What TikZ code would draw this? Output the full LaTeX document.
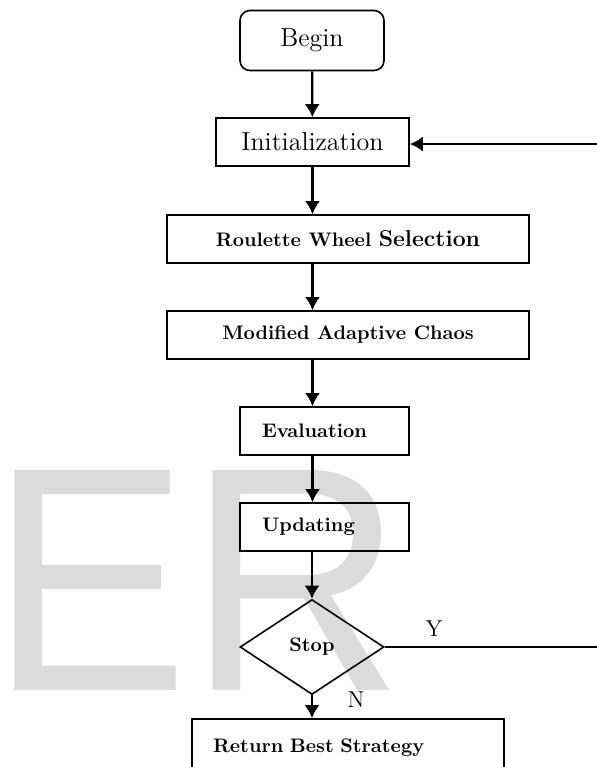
\documentclass[tikz,border=0pt]{standalone}
\usepackage{fontspec}
\usepackage{tikz}
\usetikzlibrary{arrows.meta}
\usetikzlibrary{shapes}
\usetikzlibrary{positioning}

\newfontfamily\wmfont{Liberation Sans}

\begin{document}
\begin{tikzpicture}[x=0.5pt, y=-0.5pt, >={Latex[length=6.5pt,width=7.5pt]},
  plainbox/.style={draw, line width=0.8pt, minimum height=24pt, inner sep=0pt,
    font=\fontsize{13}{15}\selectfont},
  proc/.style={draw, line width=0.8pt, minimum height=24pt, inner sep=0pt,
    font=\fontsize{9.8}{11}\selectfont\bfseries},
  flow/.style={->, line width=1.1pt}]

  \useasboundingbox (0,0) rectangle (597,767);

  % watermark
  \node[anchor=base west, inner sep=0pt, text=black!14, xscale=0.93,
    font=\wmfont\fontsize{160}{160}\selectfont] (mark) at (-10,690) {ER};

  \node[plainbox, rounded corners=5pt, minimum width=72pt, minimum height=30pt] (begin) at (312,40.5) {Begin};
  \node[plainbox, minimum width=96.5pt] (init) at (312.5,142) {Initialization};
  \node[proc, minimum width=181pt] (select) at (348,239) {Roulette Wheel {\fontsize{11.5}{13}\selectfont Selection}};
  \node[proc, minimum width=181pt] (chaos) at (348,335) {Modified Adaptive Chaos};
  \node[proc, text width=62.5pt, inner xsep=11pt, align=left] (eval) at (324.5,431) {Evaluation};
  \node[proc, text width=62.5pt, inner xsep=11pt, align=left] (update) at (324.5,527) {Updating};
  \node[proc, diamond, minimum width=72pt, minimum height=47.5pt] (stop) at (312,647) {Stop};
  \node[proc, text width=135pt, inner xsep=10.5pt, align=left, minimum height=29pt] (best) at (348,748) {Return Best Strategy};

  \node[font=\fontsize{11.5}{13}\selectfont] (ylab) at (434,629) {Y};
  \node[font=\fontsize{11.5}{13}\selectfont] (nlab) at (356,700) {N};

  \coordinate (yend) at (597,647);
  \coordinate (back) at (597,144);

  \draw[flow] (begin) -- (init);
  \draw[flow] (init.south) -- (init.south |- select.north);
  \draw[flow] (select.south -| init) -- (init |- chaos.north);
  \draw[flow] (chaos.south -| init) -- (init |- eval.north);
  \draw[flow] (eval.south -| init) -- (init |- update.north);
  \draw[flow] (update.south -| stop) -- (stop.north);
  \draw[flow] (stop.south) -- (stop.south |- best.north);
  \draw[line width=1.1pt] (stop.east) -- (yend);
  \draw[flow] (back) -- (back -| init.east);

\end{tikzpicture}
\end{document}
